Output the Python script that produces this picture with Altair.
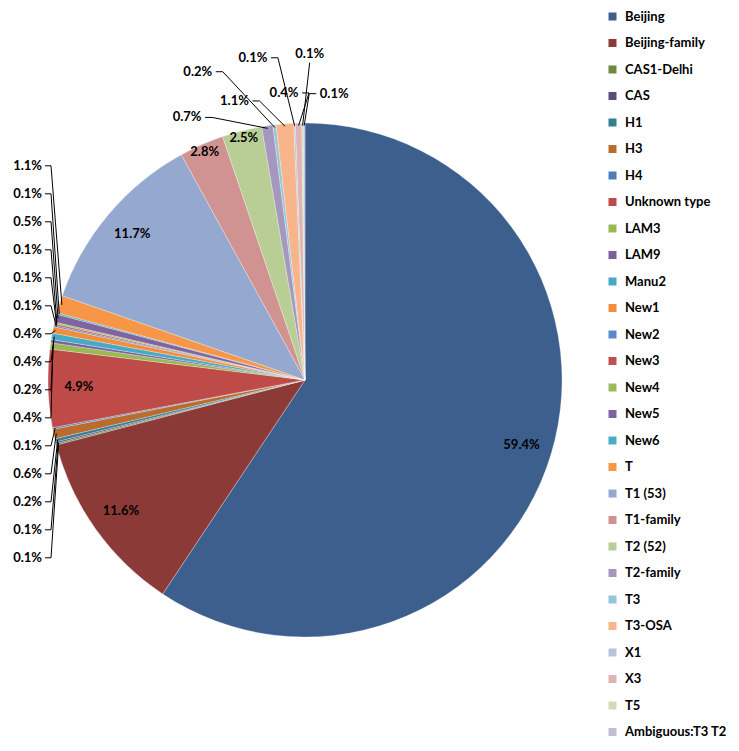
import math
import altair as alt
import pandas as pd

categories = ["Beijing", "Beijing-family", "CAS1-Delhi", "CAS", "H1", "H3", "H4",
              "Unknown type", "LAM3", "LAM9", "Manu2", "New1", "New2", "New3",
              "New4", "New5", "New6", "T", "T1 (53)", "T1-family", "T2 (52)",
              "T2-family", "T3", "T3-OSA", "X1", "X3", "T5", "Ambiguous:T3 T2"]
values = [59.4, 11.6, 0.1, 0.1, 0.2, 0.6, 0.1,
          4.9, 0.4, 0.2, 0.4, 0.4, 0.1, 0.1,
          0.1, 0.5, 0.1, 1.1, 11.7, 2.8, 2.5,
          0.7, 0.2, 1.1, 0.1, 0.4, 0.1, 0.1]
colors = ["#3C5F8E", "#8B3A38", "#71893F", "#5E4B7C", "#357E92", "#B86C30", "#4A7EBB",
          "#BE4B48", "#98B954", "#7D5FA0", "#46AAC5", "#F08E3E", "#5B8ACB", "#C0504D",
          "#9BBB59", "#8064A2", "#4BACC6", "#F79646", "#95A9D0", "#D19392", "#B9CE94",
          "#A597BD", "#92C6D8", "#F8B48A", "#B6C3DF", "#DFB4B3", "#CFDDB8", "#C4BBD5"]

# layout constants (pixels)
W, H = 723, 735
CX, CY = 297, 372
R = 257

total = sum(values)
cum = 0.0
slices = []
for i, (c, v) in enumerate(zip(categories, values)):
    a0 = cum / total * 360.0
    cum += v
    a1 = cum / total * 360.0
    slices.append(dict(idx=i, cat=c, val=v, mid=(a0 + a1) / 2.0, label=f"{v:.1f}%"))


def polar(angle_deg, rad):
    t = math.radians(angle_deg)
    return rad * math.sin(t), -rad * math.cos(t)


labels = []
segs = []
left = [s for s in slices if s["val"] < 2 and 200 < s["mid"] < 300]
top = [s for s in slices if s["val"] < 2 and s["mid"] >= 300]

# inside labels
for s in slices:
    if s["val"] >= 2:
        f = 0.88 if s["val"] >= 4 else 0.97
        x, y = polar(s["mid"], R * f)
        labels.append(dict(x=x, y=y, label=s["label"], kind="in"))

# left column: spread vertically
ys = [polar(s["mid"], R * 1.1)[1] for s in left]
order = sorted(range(len(left)), key=lambda k: ys[k])
pos = [ys[k] for k in order]
gap = 28
for _ in range(400):
    for j in range(len(pos) - 1):
        d = pos[j + 1] - pos[j]
        if d < gap:
            m = (gap - d) / 2
            pos[j] -= m
            pos[j + 1] += m
for j, k in enumerate(order):
    s = left[k]
    ly = pos[j]
    xt = -R - 6
    labels.append(dict(x=xt, y=ly, label=s["label"], kind="left"))
    px, py = polar(s["mid"], R * 0.99)
    segs.append(dict(x=xt + 3, y=ly, x2=xt + 9, y2=ly))
    segs.append(dict(x=xt + 9, y=ly, x2=px, y2=py))

# top fan: staggered rows
n = len(top)
step = 5.0
for i, s in enumerate(top):
    ang = top[-1]["mid"] + 6 - (n - 1 - i) * step
    rad = R * (1.12 if i % 2 == 0 else 1.27)
    lx, ly = polar(ang, rad)
    labels.append(dict(x=lx, y=ly, label=s["label"], kind="top"))
    px, py = polar(s["mid"], R * 0.99)
    if lx < px - 12:
        ex = lx + 18
        segs.append(dict(x=ex, y=ly, x2=ex + 7, y2=ly))
        segs.append(dict(x=ex + 7, y=ly, x2=px, y2=py))
    elif lx > px + 12:
        ex = lx - 18
        segs.append(dict(x=ex, y=ly, x2=ex - 7, y2=ly))
        segs.append(dict(x=ex - 7, y=ly, x2=px, y2=py))
    else:
        segs.append(dict(x=lx, y=ly + 9, x2=px, y2=py))

df = pd.DataFrame(slices)
lab_df = pd.DataFrame(labels)
seg_df = pd.DataFrame(segs)

xs = alt.Scale(domain=[-CX, W - CX], nice=False, zero=False)
yscale = alt.Scale(domain=[-CY, H - CY], nice=False, zero=False, reverse=True)

pie = alt.Chart(df).mark_arc(outerRadius=R, stroke="#ffffff", strokeWidth=0.4,
                             strokeOpacity=0.7).encode(
    theta=alt.Theta("val:Q", stack=True),
    order=alt.Order("idx:Q"),
    x=alt.X(datum=0, scale=xs, axis=None),
    y=alt.Y(datum=0, scale=yscale, axis=None),
    color=alt.Color("cat:N", scale=alt.Scale(domain=categories, range=colors),
                    sort=categories,
                    legend=alt.Legend(title=None, orient="none", legendX=598, legendY=2,
                                      symbolType="square", symbolSize=64,
                                      symbolStrokeWidth=0, labelFont="Lato",
                                      labelFontWeight="bold", labelFontSize=13,
                                      labelColor="#000000", labelOffset=6,
                                      rowPadding=12.5, padding=0, labelLimit=200)),
)

rules = alt.Chart(seg_df).mark_rule(color="#000000", strokeWidth=1).encode(
    x=alt.X("x:Q", scale=xs, axis=None), y=alt.Y("y:Q", scale=yscale, axis=None),
    x2="x2:Q", y2="y2:Q")

def text_layer(kind, align):
    return alt.Chart(lab_df).transform_filter(alt.datum.kind == kind).mark_text(
        font="Lato", fontWeight="bold", fontSize=13, color="#000000",
        align=align, baseline="middle").encode(
        x=alt.X("x:Q", scale=xs, axis=None), y=alt.Y("y:Q", scale=yscale, axis=None),
        text="label:N")

chart = alt.layer(pie, rules, text_layer("in", "center"), text_layer("left", "right"),
                  text_layer("top", "center")).properties(
    width=W, height=H, padding=0, autosize=alt.AutoSizeParams(type="none")
).configure_view(stroke=None)

chart.save("out.html", embed_options={"renderer": "svg", "actions": False})
